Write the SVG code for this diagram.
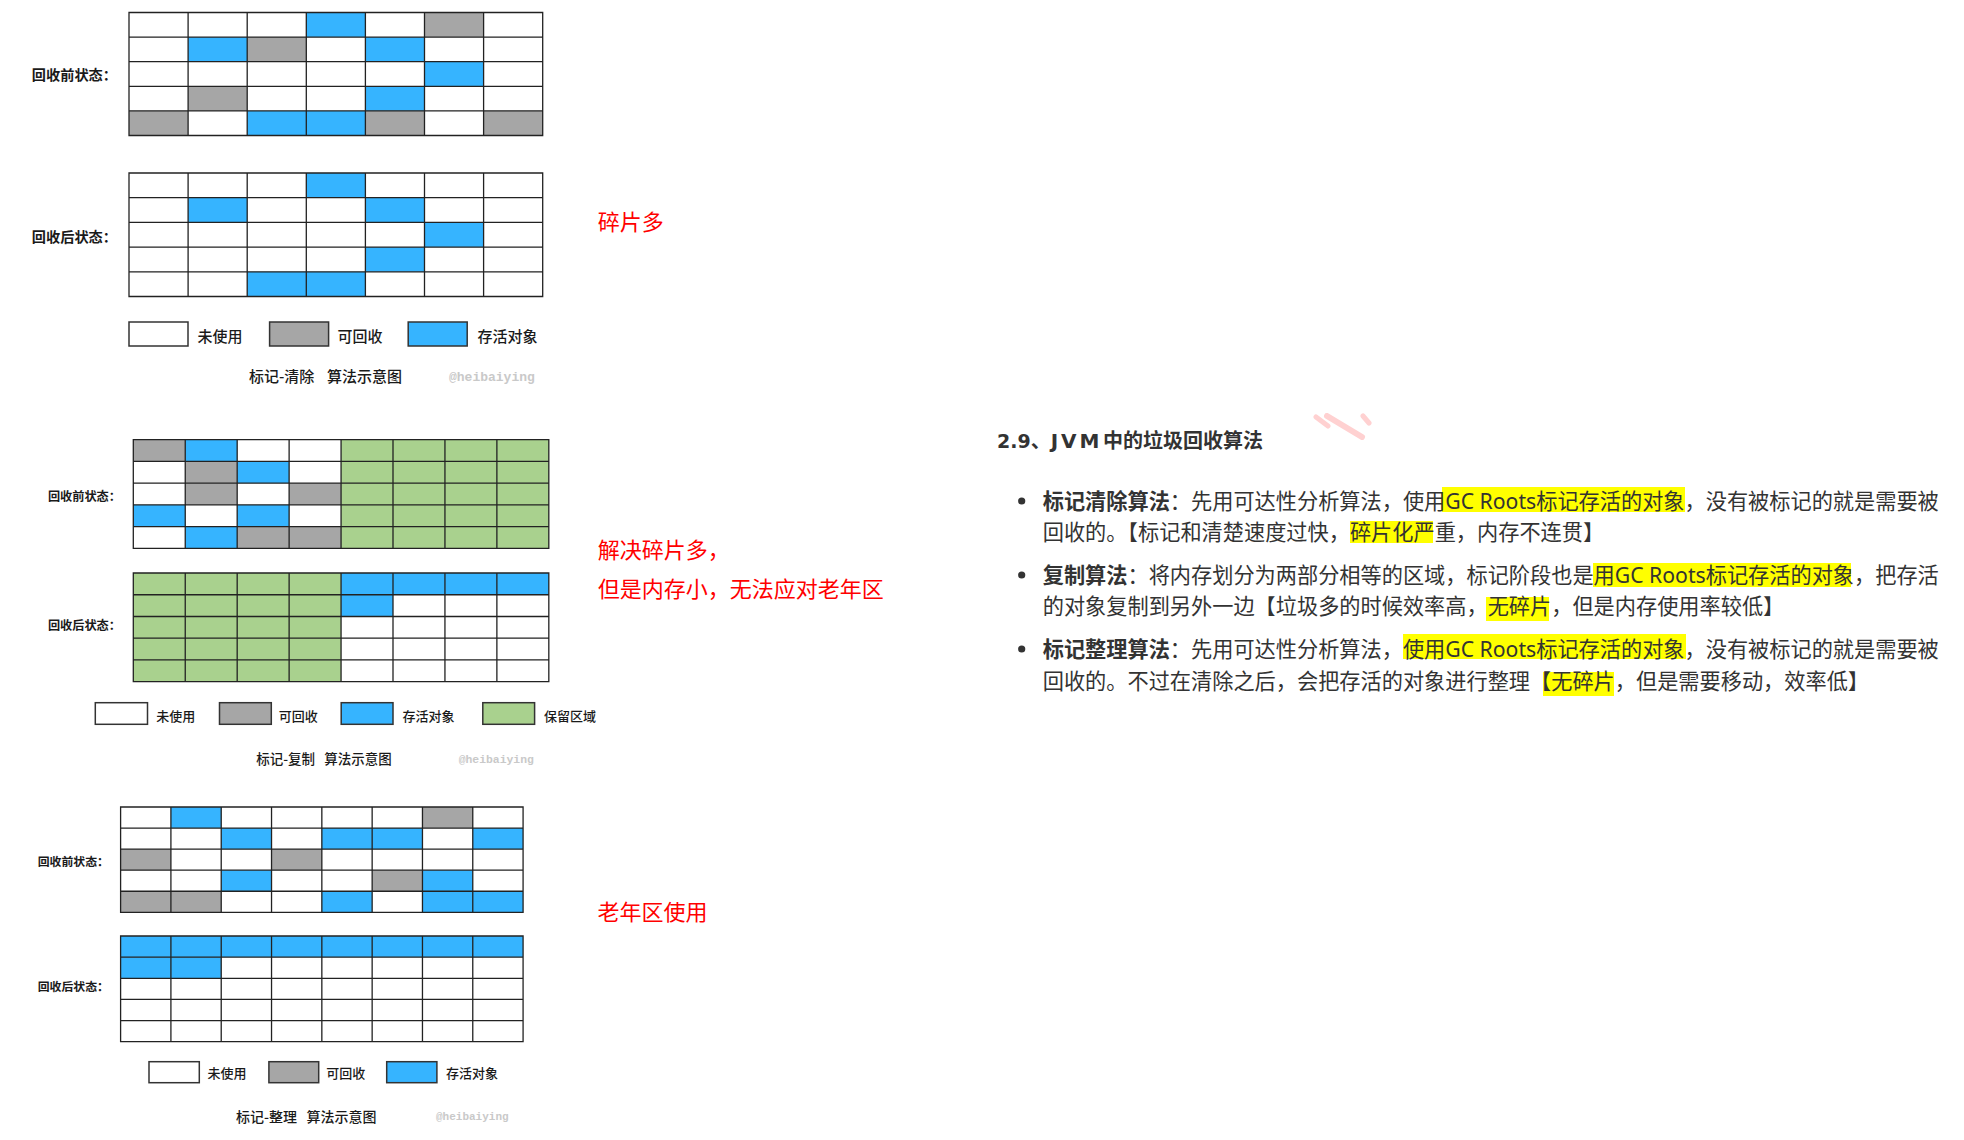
<svg xmlns="http://www.w3.org/2000/svg" width="1964" height="1140" viewBox="0 0 1964 1140">
<style>
.w{fill:#ffffff}
.b{fill:#36B4FF}
.g{fill:#A6A6A6}
.gr{fill:#A9D18E}
.grid{fill:none;stroke:#222;stroke-width:1.3;vector-effect:non-scaling-stroke}
.lg{stroke:#333;stroke-width:1.5}
.lbl{font-family:'Noto Sans CJK SC',sans-serif;font-weight:700;fill:#1a1a1a}
.leg{font-family:'Noto Sans CJK SC',sans-serif;font-weight:500;fill:#1a1a1a}
.cap{font-family:'Noto Sans CJK SC',sans-serif;font-weight:500;fill:#1a1a1a}
.wm{font-family:'Liberation Mono',monospace;font-weight:700;fill:#c9c9c9}
.red{font-family:'Noto Sans CJK SC',sans-serif;font-size:22px;fill:#ff0000}
.body{font-family:'Noto Sans','Noto Sans CJK SC',sans-serif;font-size:21.2px;fill:#333;text-spacing-trim:space-all}
.bold{font-weight:700}
.hl{fill:#ffff00}
.title{font-family:'Noto Sans','Noto Sans CJK SC',sans-serif;font-size:20px;font-weight:700;fill:#333;text-spacing-trim:space-all}
.lat{font-family:'DejaVu Sans',sans-serif}
</style>
<rect width="1964" height="1140" fill="#ffffff"/>

<!-- Mark-Sweep -->
<g id="ms-before" transform="translate(129 12.5) scale(59.1 24.6)">
<rect class="w" width="7" height="5"/>
<rect class="b" x="3" y="0" width="1" height="1"/>
<rect class="g" x="5" y="0" width="1" height="1"/>
<rect class="b" x="1" y="1" width="1" height="1"/>
<rect class="g" x="2" y="1" width="1" height="1"/>
<rect class="b" x="4" y="1" width="1" height="1"/>
<rect class="b" x="5" y="2" width="1" height="1"/>
<rect class="g" x="1" y="3" width="1" height="1"/>
<rect class="b" x="4" y="3" width="1" height="1"/>
<rect class="g" x="0" y="4" width="1" height="1"/>
<rect class="b" x="2" y="4" width="2" height="1"/>
<rect class="g" x="4" y="4" width="1" height="1"/>
<rect class="g" x="6" y="4" width="1" height="1"/>
<path class="grid" d="M0 0H7V5H0Z M1 0V5 M2 0V5 M3 0V5 M4 0V5 M5 0V5 M6 0V5 M0 1H7 M0 2H7 M0 3H7 M0 4H7"/>
</g>
<g id="ms-after" transform="translate(129 173) scale(59.1 24.7)">
<rect class="w" width="7" height="5"/>
<rect class="b" x="3" y="0" width="1" height="1"/>
<rect class="b" x="1" y="1" width="1" height="1"/>
<rect class="b" x="4" y="1" width="1" height="1"/>
<rect class="b" x="5" y="2" width="1" height="1"/>
<rect class="b" x="4" y="3" width="1" height="1"/>
<rect class="b" x="2" y="4" width="2" height="1"/>
<path class="grid" d="M0 0H7V5H0Z M1 0V5 M2 0V5 M3 0V5 M4 0V5 M5 0V5 M6 0V5 M0 1H7 M0 2H7 M0 3H7 M0 4H7"/>
</g>
<g id="ms-labels">
<text class="lbl" x="117" y="80.3" font-size="14.2" text-anchor="end">回收前状态：</text>
<text class="lbl" x="117" y="242.3" font-size="14.2" text-anchor="end">回收后状态：</text>
</g>
<g id="ms-legend">
<rect class="w lg" x="129" y="322" width="59" height="24"/>
<text class="leg" x="197.5" y="342.4" font-size="15">未使用</text>
<rect class="g lg" x="269.6" y="322" width="59" height="24"/>
<text class="leg" x="337.5" y="342.4" font-size="15">可回收</text>
<rect class="b lg" x="408.2" y="322" width="59" height="24"/>
<text class="leg" x="477.5" y="342.4" font-size="15">存活对象</text>
<text class="cap" x="249" y="382.4" font-size="15">标记-清除<tspan x="327">算法示意图</tspan></text>
<text class="wm" x="449" y="381" font-size="13">@heibaiying</text>
</g>
<text id="note1" class="red" x="597.7" y="230.4">碎片多</text>

<!-- Mark-Copy -->
<g id="mc-before" transform="translate(133.3 439.7) scale(51.94 21.72)">
<rect class="w" width="8" height="5"/>
<rect class="gr" x="4" y="0" width="4" height="5"/>
<rect class="g" x="0" y="0" width="1" height="1"/>
<rect class="b" x="1" y="0" width="1" height="1"/>
<rect class="g" x="1" y="1" width="1" height="1"/>
<rect class="b" x="2" y="1" width="1" height="1"/>
<rect class="g" x="1" y="2" width="1" height="1"/>
<rect class="g" x="3" y="2" width="1" height="1"/>
<rect class="b" x="0" y="3" width="1" height="1"/>
<rect class="b" x="2" y="3" width="1" height="1"/>
<rect class="b" x="1" y="4" width="1" height="1"/>
<rect class="g" x="2" y="4" width="2" height="1"/>
<path class="grid" d="M0 0H8V5H0Z M1 0V5 M2 0V5 M3 0V5 M4 0V5 M5 0V5 M6 0V5 M7 0V5 M0 1H8 M0 2H8 M0 3H8 M0 4H8"/>
</g>
<g id="mc-after" transform="translate(133.3 573) scale(51.94 21.74)">
<rect class="w" width="8" height="5"/>
<rect class="gr" x="0" y="0" width="4" height="5"/>
<rect class="b" x="4" y="0" width="4" height="1"/>
<rect class="b" x="4" y="1" width="1" height="1"/>
<path class="grid" d="M0 0H8V5H0Z M1 0V5 M2 0V5 M3 0V5 M4 0V5 M5 0V5 M6 0V5 M7 0V5 M0 1H8 M0 2H8 M0 3H8 M0 4H8"/>
</g>
<g id="mc-labels">
<text class="lbl" x="121" y="500.6" font-size="12.2" text-anchor="end">回收前状态：</text>
<text class="lbl" x="121" y="629.6" font-size="12.2" text-anchor="end">回收后状态：</text>
</g>
<g id="mc-legend">
<rect class="w lg" x="95.3" y="702.7" width="52.2" height="21.6"/>
<text class="leg" x="156.2" y="720.6" font-size="13">未使用</text>
<rect class="g lg" x="219.5" y="702.7" width="51.8" height="21.6"/>
<text class="leg" x="278.8" y="720.6" font-size="13">可回收</text>
<rect class="b lg" x="341.2" y="702.7" width="51.8" height="21.6"/>
<text class="leg" x="402.5" y="720.6" font-size="13">存活对象</text>
<rect class="gr lg" x="482.8" y="702.7" width="51.8" height="21.6"/>
<text class="leg" x="544" y="720.6" font-size="13">保留区域</text>
<text class="cap" x="256.2" y="764.4" font-size="13.5">标记-复制<tspan x="324.2">算法示意图</tspan></text>
<text class="wm" x="458.7" y="762.8" font-size="11.4">@heibaiying</text>
</g>
<g id="note2">
<text class="red" x="597.7" y="557.7">解决碎片多，</text>
<text class="red" x="597.7" y="596.7">但是内存小，无法应对老年区</text>
</g>

<!-- Mark-Compact -->
<g id="mk-before" transform="translate(120.6 807) scale(50.31 21.06)">
<rect class="w" width="8" height="5"/>
<rect class="b" x="1" y="0" width="1" height="1"/>
<rect class="g" x="6" y="0" width="1" height="1"/>
<rect class="b" x="2" y="1" width="1" height="1"/>
<rect class="b" x="4" y="1" width="2" height="1"/>
<rect class="b" x="7" y="1" width="1" height="1"/>
<rect class="g" x="0" y="2" width="1" height="1"/>
<rect class="g" x="3" y="2" width="1" height="1"/>
<rect class="b" x="2" y="3" width="1" height="1"/>
<rect class="g" x="5" y="3" width="1" height="1"/>
<rect class="b" x="6" y="3" width="1" height="1"/>
<rect class="g" x="0" y="4" width="2" height="1"/>
<rect class="b" x="4" y="4" width="1" height="1"/>
<rect class="b" x="6" y="4" width="2" height="1"/>
<path class="grid" d="M0 0H8V5H0Z M1 0V5 M2 0V5 M3 0V5 M4 0V5 M5 0V5 M6 0V5 M7 0V5 M0 1H8 M0 2H8 M0 3H8 M0 4H8"/>
</g>
<g id="mk-after" transform="translate(120.6 936) scale(50.31 21.14)">
<rect class="w" width="8" height="5"/>
<rect class="b" x="0" y="0" width="8" height="1"/>
<rect class="b" x="0" y="1" width="2" height="1"/>
<path class="grid" d="M0 0H8V5H0Z M1 0V5 M2 0V5 M3 0V5 M4 0V5 M5 0V5 M6 0V5 M7 0V5 M0 1H8 M0 2H8 M0 3H8 M0 4H8"/>
</g>
<g id="mk-labels">
<text class="lbl" x="109" y="865.6" font-size="11.9" text-anchor="end">回收前状态：</text>
<text class="lbl" x="109" y="991.3" font-size="11.9" text-anchor="end">回收后状态：</text>
</g>
<g id="mk-legend">
<rect class="w lg" x="149" y="1061.7" width="50.3" height="21"/>
<text class="leg" x="207.6" y="1078.2" font-size="13">未使用</text>
<rect class="g lg" x="268.9" y="1061.7" width="49.8" height="21"/>
<text class="leg" x="326.2" y="1078.2" font-size="13">可回收</text>
<rect class="b lg" x="386.7" y="1061.7" width="50.2" height="21"/>
<text class="leg" x="446" y="1078.2" font-size="13">存活对象</text>
<text class="cap" x="236" y="1122" font-size="14">标记-整理<tspan x="306.4">算法示意图</tspan></text>
<text class="wm" x="436" y="1120" font-size="11">@heibaiying</text>
</g>
<text id="note3" class="red" x="597.5" y="920.4">老年区使用</text>

<!-- Right panel -->
<g id="title">
<text class="title" x="997" y="447.5"><tspan class="lat" font-size="19">2.9</tspan>、<tspan class="lat" letter-spacing="3">JVM</tspan><tspan x="1103">中的垃圾回收算法</tspan></text>
<g stroke="#ffc9c9" stroke-linecap="round" opacity="0.85">
<line x1="1316" y1="417" x2="1328" y2="426" stroke-width="5"/>
<line x1="1327" y1="416" x2="1362" y2="437" stroke-width="6"/>
<line x1="1363" y1="416" x2="1369" y2="423" stroke-width="5"/>
</g>
</g>

<g id="highlights">
<rect class="hl" x="1442" y="487" width="243" height="25"/>
<rect class="hl" x="1350" y="521" width="83" height="22"/>
<rect class="hl" x="1593" y="563" width="258" height="24"/>
<rect class="hl" x="1486" y="597" width="63" height="24"/>
<rect class="hl" x="1403" y="634" width="283" height="25"/>
<rect class="hl" x="1543" y="672" width="71" height="24"/>
</g>

<g id="bullet1">
<circle cx="1021.7" cy="501" r="3.6" fill="#333"/>
<text class="body" x="1042.7" y="509"><tspan class="bold">标记清除算法</tspan>：先用可达性分析算法，使用GC Roots标记存活的对象，没有被标记的就是需要被</text>
<text class="body" x="1042.7" y="540">回收的<tspan letter-spacing="-10.6">。</tspan>【标记和清楚速度过快，碎片化严重，内存不连贯】</text>
</g>
<g id="bullet2">
<circle cx="1021.7" cy="575" r="3.6" fill="#333"/>
<text class="body" x="1042.7" y="583"><tspan class="bold">复制算法</tspan>：将内存划分为两部分相等的区域，标记阶段也是用GC Roots标记存活的对象，把存活</text>
<text class="body" x="1042.7" y="614">的对象复制到另外一边【垃圾多的时候效率高，无碎片，但是内存使用率较低】</text>
</g>
<g id="bullet3">
<circle cx="1021.7" cy="649" r="3.6" fill="#333"/>
<text class="body" x="1042.7" y="657"><tspan class="bold">标记整理算法</tspan>：先用可达性分析算法，使用GC Roots标记存活的对象，没有被标记的就是需要被</text>
<text class="body" x="1042.7" y="689">回收的。不过在清除之后，会把存活的对象进行整理【无碎片，但是需要移动，效率低】</text>
</g>
</svg>
